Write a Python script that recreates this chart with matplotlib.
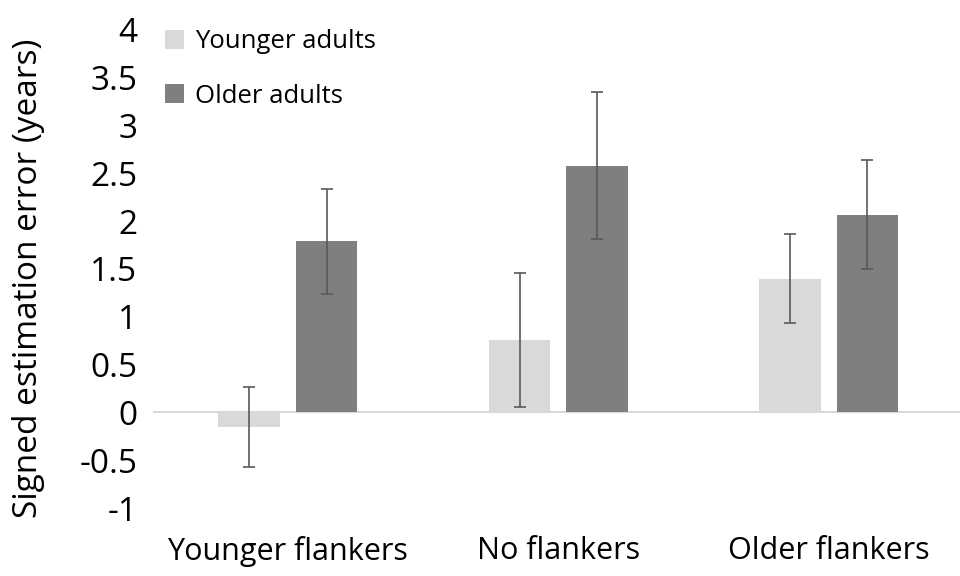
import matplotlib
matplotlib.use("Agg")
import matplotlib.pyplot as plt
import numpy as np

categories = ["Younger flankers", "No flankers", "Older flankers"]
series_names = ["Younger adults", "Older adults"]
younger_means = [-0.15, 0.76, 1.40]
younger_err = [0.42, 0.70, 0.47]
older_means = [1.79, 2.58, 2.065]
older_err = [0.55, 0.77, 0.57]
yticks = [-1, -0.5, 0, 0.5, 1, 1.5, 2, 2.5, 3, 3.5, 4]
ytick_labels = ["-1", "-0.5", "0", "0.5", "1", "1.5", "2", "2.5", "3", "3.5", "4"]

plt.rcParams['font.family'] = ['Open Sans', 'DejaVu Sans']

fig = plt.figure(figsize=(9.6, 5.76), dpi=100)
ax = fig.add_axes([0.159, 0.118, 0.845, 0.830])

x = np.arange(len(categories))
w = 0.227
off = 0.143
errkw = dict(ecolor="#595959", elinewidth=1.2, capsize=4, capthick=1.2)
ax.bar(x - off, younger_means, w, yerr=younger_err, color="#d9d9d9",
       label=series_names[0], error_kw=errkw, zorder=2)
ax.bar(x + off, older_means, w, yerr=older_err, color="#7f7f7f",
       label=series_names[1], error_kw=errkw, zorder=2)
ax.axhline(0, color="#d9d9d9", linewidth=1.5, zorder=1)

ax.set_xlim(-0.5, 2.5)
ax.set_ylim(-1, 4)
ax.set_yticks(yticks)
ax.set_yticklabels(ytick_labels, fontsize=24)
ax.set_xticks(x)
ax.set_xticklabels(categories, fontsize=22)
ax.tick_params(axis='y', length=0, pad=11)
ax.tick_params(axis='x', length=0, pad=20)
for s in ax.spines.values():
    s.set_visible(False)
ax.set_ylabel("Signed estimation error (years)", fontsize=24)
ax.yaxis.set_label_coords(-0.133, 0.48)

leg = ax.legend(loc="upper left", bbox_to_anchor=(-0.013, 1.05), frameon=False,
                fontsize=18.5, handlelength=0.75, handleheight=0.75,
                handletextpad=0.4, labelspacing=1.15)

fig.savefig("out.png", dpi=100)
